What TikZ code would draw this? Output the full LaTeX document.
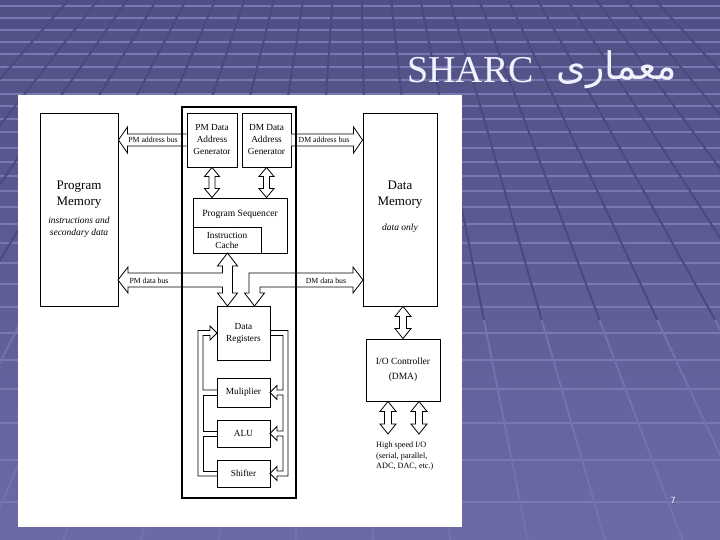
\documentclass[tikz,border=0pt]{standalone}
\usepackage{fontspec}
\setmainfont{Liberation Serif}
\newfontfamily\arabicfont[Script=Arabic]{DejaVu Sans}
\newfontfamily\numfont{DejaVu Sans}
\TeXXeTstate=1
\usetikzlibrary{calc}
\newcommand\myfs[2]{\fontsize{#1}{#2}\selectfont}
\definecolor{bgtop}{HTML}{505084}
\definecolor{bgbot}{HTML}{6A6AA6}
\definecolor{hline}{HTML}{7878B2}
\definecolor{vdark}{HTML}{4A4A7E}
\definecolor{vlight}{HTML}{7272AE}
\definecolor{titlec}{HTML}{F2F2FF}
% single-headed hollow bus, head pointing left / right
\newcommand\busL[2]{\draw[bus] let \p1=(#1), \p2=(#2) in
  (\x2,\y1+6pt) -- (\x1+9pt,\y1+6pt) -- (\x1+9pt,\y1+13pt) -- (\x1,\y1) --
  (\x1+9pt,\y1-13pt) -- (\x1+9pt,\y1-6pt) -- (\x2,\y1-6pt);}
\newcommand\busR[2]{\draw[bus] let \p1=(#1), \p2=(#2) in
  (\x2,\y1+6pt) -- (\x1-9pt,\y1+6pt) -- (\x1-9pt,\y1+13pt) -- (\x1,\y1) --
  (\x1-9pt,\y1-13pt) -- (\x1-9pt,\y1-6pt) -- (\x2,\y1-6pt);}
% vertical double-headed hollow arrow: top, bottom, shaft half, head half, head length
\newcommand\vdbl[5]{\draw[bus] let \p1=(#1), \p2=(#2) in
  (\x1,\y1) -- (\x1+#4,\y1-#5) -- (\x1+#3,\y1-#5) -- (\x1+#3,\y2+#5) -- (\x1+#4,\y2+#5) --
  (\x1,\y2) -- (\x1-#4,\y2+#5) -- (\x1-#3,\y2+#5) -- (\x1-#3,\y1-#5) -- (\x1-#4,\y1-#5) -- cycle;}
\begin{document}
\begin{tikzpicture}[x=1pt,y=-1pt,
  blk/.style={draw=black, line width=0.9pt, fill=white, inner sep=0pt, align=center, font=\myfs{9.3}{12}},
  bus/.style={draw=black, line width=0.8pt, fill=white, line join=miter},
  chan/.style={draw=black, line width=0.8pt},
  lbl/.style={inner sep=0pt, font=\myfs{7.8}{10}},
  txt/.style={inner sep=0pt, align=center},
  hl/.style={draw=hline, line width=1.4pt},
  vdk/.style={draw=vdark, line width=2pt},
  vlt/.style={draw=vlight, line width=2pt},
]
\useasboundingbox (0,0) rectangle (720,540);
% background
\shade[top color=bgtop, bottom color=bgbot] (0,0) rectangle (720,540);
\begin{scope}
\clip (0,0) rectangle (720,540);
\foreach \yy in {6,18,30,42,54,67,80,94,106,119,132,148,162,176,191,207,224,243,263,284,307,333,360,389,423,460,502}
  \draw[hl] (0,\yy) -- (720,\yy);
\foreach \k in {-12,...,8}{
  \pgfmathsetmacro\gS{(125+56*\k)/630}
  \pgfmathsetmacro\gXt{355+\gS*330}
  \pgfmathsetmacro\gXm{355+\gS*650}
  \pgfmathsetmacro\gXb{355+\gS*870}
  \draw[vdk] (\gXt,0) -- (\gXm,320);
  \draw[vlt] (\gXm,320) -- (\gXb,540);
}
\end{scope}
% title
\node[font=\myfs{38}{40}, text=titlec, anchor=base west, inner sep=0pt] (tsh) at (407,83) {SHARC};
\node[font=\arabicfont\myfs{38}{40}, text=titlec, anchor=base east, inner sep=0pt] (tar) at (677,80) {\beginR معماری\endR};
\node[font=\numfont\myfs{8.5}{10}, text=titlec, inner sep=0pt] (pg) at (673,500) {7};
% white panel
\fill[white] (18,95) rectangle (462,527);
% memories
\node[blk, minimum width=78pt, minimum height=193pt] (pm) at (79,209.5) {};
\node[txt, font=\myfs{13}{16}] (pmt) at (79,195) {Program\\Memory};
\node[txt, font=\itshape\myfs{9.5}{12}] (pms) at (79,227) {instructions and\\secondary data};
\node[blk, minimum width=74pt, minimum height=193pt] (dm) at (400,209.5) {};
\node[txt, font=\myfs{13}{16}] (dmt) at (400,195) {Data\\Memory};
\node[txt, font=\itshape\myfs{9.5}{12}] (dms) at (400,228) {data only};
% core blocks
\node[blk, minimum width=50pt, minimum height=54pt] (pmdag) at (212,140) {PM Data\\Address\\Generator};
\node[blk, minimum width=49pt, minimum height=54pt] (dmdag) at (266.5,140) {DM Data\\Address\\Generator};
\node[blk, minimum width=94pt, minimum height=55pt] (seq) at (240,225.5) {};
\node[txt, font=\myfs{9.6}{11}] (seqt) at (240,214) {Program Sequencer};
\node[blk, minimum width=68pt, minimum height=26pt, font=\myfs{9.3}{10}] (icache) at (227,240) {Instruction\\Cache};
\node[blk, minimum width=53pt, minimum height=54pt] (dreg) at (243.5,333) {Data\\Registers};
\node[blk, minimum width=53pt, minimum height=29pt] (mult) at (243.5,392.5) {Muliplier};
\node[blk, minimum width=53pt, minimum height=27pt] (alu) at (243.5,433.5) {ALU};
\node[blk, minimum width=53pt, minimum height=27pt] (shift) at (243.5,473.5) {Shifter};
% I/O
\node[blk, minimum width=74pt, minimum height=62pt, font=\myfs{9.5}{15}] (io) at (403,370) {I/O Controller\\(DMA)};
\coordinate (hs1) at (388,434);
\coordinate (hs2) at (419,434);
\node[anchor=north west, inner sep=0pt, align=left, font=\myfs{8.2}{10.5}] (hsio) at (376,442) {High speed I/O\\(serial, parallel,\\ADC, DAC, etc.)};
% address buses
\coordinate (pab) at (pm.east |- pmdag.west);
\coordinate (dab) at (dm.west |- dmdag.east);
\busL{pab}{pmdag.west}
\busR{dab}{dmdag.east}
\node[lbl] (pmab) at (153,140) {PM address bus};
\node[lbl] (dmab) at (324,140) {DM address bus};
% vertical double arrows
\vdbl{pmdag.south}{pmdag.south |- seq.north}{3pt}{7.5pt}{9pt}
\vdbl{dmdag.south}{dmdag.south |- seq.north}{3pt}{7.5pt}{9pt}
\vdbl{io.north |- dm.south}{io.north}{3.5pt}{8pt}{10pt}
\vdbl{hs1 |- io.south}{hs1}{3.5pt}{8pt}{10pt}
\vdbl{hs2 |- io.south}{hs2}{3.5pt}{8pt}{10pt}
% data buses
\draw[bus] (227.5,253) -- (237.5,266) -- (232.5,266) -- (232.5,293) -- (237.5,293) -- (227.5,306) --
  (217.5,293) -- (222.5,293) -- (222.5,287) -- (128,287) -- (128,293) -- (118,280) -- (128,267) --
  (128,273) -- (222.5,273) -- (222.5,266) -- (217.5,266) -- cycle;
\draw[bus] (254.5,306) -- (244.5,293) -- (249,293) -- (249,273) -- (353,273) -- (353,267) -- (363,280) --
  (353,293) -- (353,287) -- (260,287) -- (260,293) -- (264.5,293) -- cycle;
\node[lbl] (pmdb) at (149,280.5) {PM data bus};
\node[lbl] (dmdb) at (326,280.5) {DM data bus};
% result channels, left (into Data Registers)
\draw[chan] (217,333) -- (210,326) -- (210,330.5) -- (198,330.5) -- (198,476) -- (217,476);
\draw[chan] (217,333) -- (210,340) -- (210,335.5) -- (203,335.5) -- (203,390) -- (217,390);
\draw[chan] (217,395) -- (203,395) -- (203,431) -- (217,431);
\draw[chan] (217,436) -- (203,436) -- (203,471) -- (217,471);
% operand channels, right (into units)
\draw[chan] (270,330.5) -- (288,330.5) -- (288,476) -- (277,476) -- (277,480.5) -- (270,473.5) --
  (277,466.5) -- (277,471) -- (283,471) -- (283,436) -- (277,436) -- (277,440.5) -- (270,433.5) --
  (277,426.5) -- (277,431) -- (283,431) -- (283,395) -- (277,395) -- (277,399.5) -- (270,392.5) --
  (277,385.5) -- (277,390) -- (283,390) -- (283,335.5) -- (270,335.5);
% core outline
\node[draw=black, line width=1.1pt, minimum width=114pt, minimum height=391pt, inner sep=0pt] (core) at (239,302.5) {};
\end{tikzpicture}
\end{document}
